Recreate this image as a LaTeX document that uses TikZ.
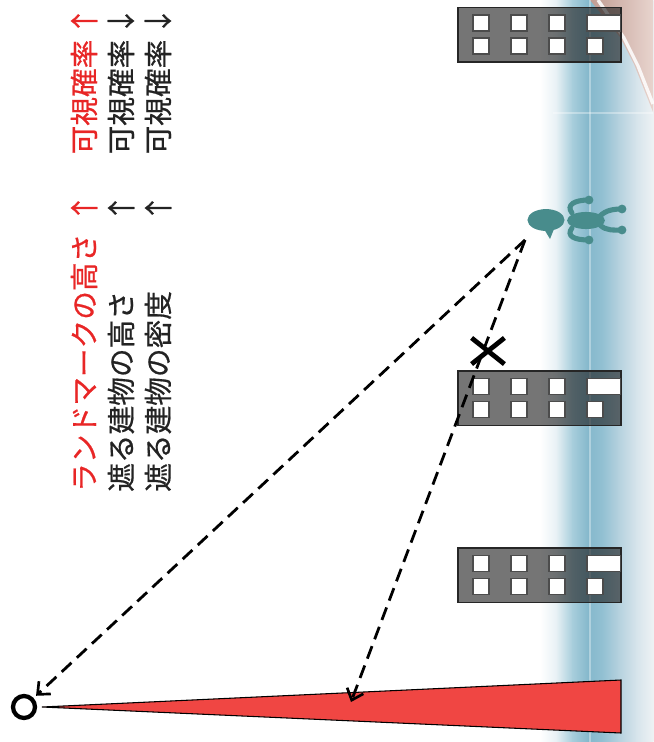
\documentclass[tikz,border=0pt]{standalone}
\usepackage{fontspec}
\setmainfont{Noto Sans CJK JP}[FakeBold=0.6]
\usetikzlibrary{arrows.meta, shapes.misc}

\definecolor{alertred}{RGB}{232,38,38}
\definecolor{textgray}{RGB}{35,35,35}
\definecolor{conered}{RGB}{240,70,67}
\definecolor{iconteal}{RGB}{72,140,140}
\definecolor{seaA}{RGB}{232,241,245}
\definecolor{seaB}{RGB}{168,206,220}
\definecolor{seaC}{RGB}{133,184,204}
\definecolor{seaD}{RGB}{146,192,210}
\definecolor{seaE}{RGB}{180,209,222}
\definecolor{seaF}{RGB}{214,228,235}
\definecolor{seaG}{RGB}{238,242,244}
\definecolor{landA}{RGB}{192,156,146}
\definecolor{landB}{RGB}{232,212,206}

\begin{document}
\begin{tikzpicture}[
    x=0.75pt, y=-0.75pt,
    rowtext/.style={rotate=90, inner sep=0pt, font=\fontsize{21.5}{24}\selectfont},
    building/.style={fill=black!90, fill opacity=0.6, draw=black!85, line width=0.9pt},
    window/.style={fill=white, draw=black!70, line width=0.8pt},
    sight/.style={dash pattern=on 10pt off 5.5pt, line width=2.1pt,
                  -{Straight Barb[length=7.5pt, width=13pt, line width=2pt]}},
    limb/.style={draw=iconteal, line width=3.8pt, line cap=round}
]
\useasboundingbox (0,0) rectangle (653,742);

%% ===== COAST BAND =====
\foreach \xa/\xb/\ca/\cb in {540/556/white/seaA, 556/572/seaA/seaB, 572/588/seaB/seaC,
                             588/602/seaC/seaD, 602/618/seaD/seaE, 618/636/seaE/seaF,
                             636/653/seaF/seaG}
  \shade[left color=\ca, right color=\cb] (\xa,0) rectangle (\xb+0.5,742);

% land corner
\shade[left color=landA, right color=landB]
  (590,0) -- (620,37) -- (634,64) -- (653,112) -- (653,0) -- cycle;
\draw[white, line width=2.5pt, opacity=0.85] (598,0) -- (624,38) -- (638,66) -- (653,104);

% grid
\draw[white, opacity=0.35, line width=0.8pt] (590,0) -- (590,742);
\draw[white, opacity=0.35, line width=0.8pt] (553,113) -- (653,113);

%% ===== BUILDINGS =====
\foreach \top in {7.5, 371, 548} {
  \draw[building] (458,\top) rectangle (621,\top+54.5);
  \foreach \dx in {15,53,91}
    \foreach \dy in {7.5,30.5}
      \draw[window] (458+\dx,\top+\dy) rectangle ++(16,16);
  \draw[window] (587,\top+7.5) rectangle (620.5,\top+23.5);
  \draw[window] (587,\top+30.5) rectangle ++(16,16);
}

%% ===== VIEW CONE =====
\coordinate (apex) at (42,707);
\filldraw[fill=conered, draw=black, line width=0.8pt]
  (apex) -- (621,680) -- (621,733) -- cycle;

\node[circle, draw, line width=3.2pt, minimum size=16.5pt, inner sep=0pt] (obs) at (24,707) {};

%% ===== SIGHT LINES =====
\coordinate (person) at (525,240);
\coordinate (hit) at (351,702);
\draw[sight, shorten >=2.5pt] (person) -- (obs);
\draw[sight] (person) -- (hit);

\node[draw, cross out, line width=3.6pt, minimum width=21pt, minimum height=16pt,
      inner sep=0pt] (blocked) at (488,351) {};

%% ===== PERSON =====
\fill[iconteal] (546,220) ellipse [x radius=13.9pt, y radius=8.2pt];
\fill[iconteal] (544,229) -- (554,229) -- (550,239) -- cycle;
\fill[iconteal] (586,220.5) ellipse [x radius=14.2pt, y radius=6.4pt];
\draw[limb] (572,213) .. controls (566,205) and (574,200) .. (589,200);
\draw[limb] (572,228) .. controls (566,236) and (574,240) .. (589,240);
\draw[limb] (600,216) .. controls (606,210) and (614,209) .. (622,209);
\draw[limb] (600,225) .. controls (606,231) and (614,230) .. (622,230);
\foreach \bx/\by in {589/200, 589/240, 622/209, 622/230}
  \fill[iconteal] (\bx,\by) circle (3.3pt);

%% ===== TEXT ROWS =====
\node[rowtext, text=alertred, anchor=west] (cond1) at (84,492) {ランドマークの高さ};
\node[rowtext, text=alertred] (up1)   at (84,208) {↑};
\node[rowtext, text=alertred] (prob1) at (84,97)  {可視確率};
\node[rowtext, text=alertred] (res1)  at (84,21)  {↑};

\node[rowtext, text=textgray, anchor=west] (cond2) at (121,492) {遮る建物の高さ};
\node[rowtext, text=textgray] (up2)   at (121,208) {↑};
\node[rowtext, text=textgray] (prob2) at (121,97)  {可視確率};
\node[rowtext, text=textgray] (res2)  at (121,21)  {↓};

\node[rowtext, text=textgray, anchor=west] (cond3) at (158,492) {遮る建物の密度};
\node[rowtext, text=textgray] (up3)   at (158,208) {↑};
\node[rowtext, text=textgray] (prob3) at (158,97)  {可視確率};
\node[rowtext, text=textgray] (res3)  at (158,21)  {↓};

\end{tikzpicture}
\end{document}
